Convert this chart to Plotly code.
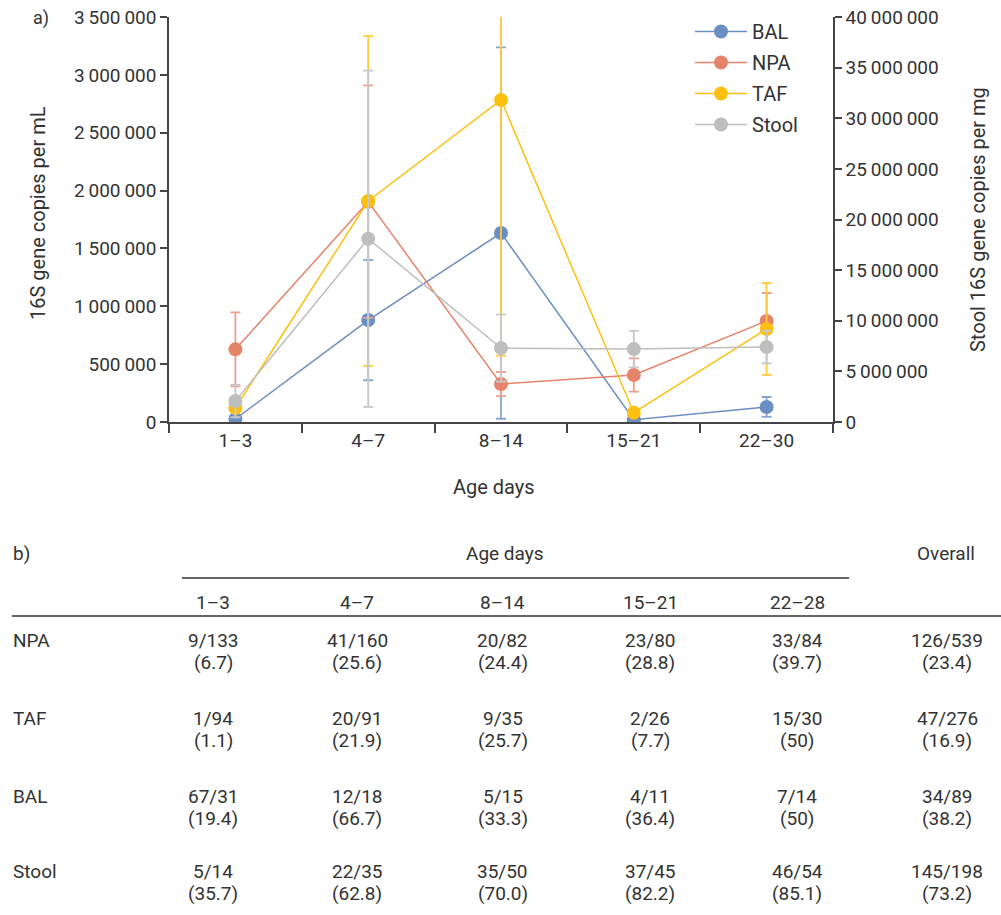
import plotly.graph_objects as go

# ---------------- data ----------------
categories = ["1–3", "4–7", "8–14", "15–21", "22–30"]

bal = [26000, 881000, 1633000, 20000, 130000]
bal_err = [15000, 520000, 1605000, 10000, 86000]

npa = [628000, 1904000, 328000, 406000, 873000]
npa_err = [320000, 1005000, 104000, 143000, 242000]

taf = [121000, 1910000, 2783000, 80000, 804000]
taf_err = [30000, 1425000, 2210000, 20000, 397000]

stool = [2070000, 18100000, 7300000, 7200000, 7400000]
stool_err = [1600000, 16600000, 3300000, 1800000, 1600000]

# table
table_cols = ["1–3", "4–7", "8–14", "15–21", "22–28"]
table_rows = ["NPA", "TAF", "BAL", "Stool"]
table_counts = [
    ["9/133", "41/160", "20/82", "23/80", "33/84", "126/539"],
    ["1/94", "20/91", "9/35", "2/26", "15/30", "47/276"],
    ["67/31", "12/18", "5/15", "4/11", "7/14", "34/89"],
    ["5/14", "22/35", "35/50", "37/45", "46/54", "145/198"],
]
table_pcts = [
    ["(6.7)", "(25.6)", "(24.4)", "(28.8)", "(39.7)", "(23.4)"],
    ["(1.1)", "(21.9)", "(25.7)", "(7.7)", "(50)", "(16.9)"],
    ["(19.4)", "(66.7)", "(33.3)", "(36.4)", "(50)", "(38.2)"],
    ["(35.7)", "(62.8)", "(70.0)", "(82.2)", "(85.1)", "(73.2)"],
]

# ---------------- styling ----------------
W, H = 1001, 915
FONT = "Roboto"
TXT = "#333333"
AX = "#444444"
C_BAL, C_NPA, C_TAF, C_STOOL = "#6b8fc2", "#e5846b", "#fdc010", "#bebebe"
E_BAL, E_NPA, E_TAF, E_STOOL = "#88a5cd", "#eb9f8c", "#fdc93a", "#c8c8c8"
FS = 19


def px(x):  # window x -> paper
    return x / W


def py(y):  # window y -> paper
    return (H - y) / H


fig = go.Figure()


def add_series(name, vals, errs, col, ecol, yaxis, group):
    fig.add_trace(go.Scatter(
        x=categories, y=vals, name=name, mode="lines+markers",
        yaxis=yaxis, legendgroup=group,
        line=dict(color=col, width=1.5),
        marker=dict(color=col, size=14),
        error_y=dict(type="data", array=errs, visible=True,
                     color=ecol, thickness=1.8, width=5),
    ))


add_series("BAL", bal, bal_err, C_BAL, E_BAL, "y", "g1")
add_series("NPA", npa, npa_err, C_NPA, E_NPA, "y", "g2")
add_series("TAF", taf, taf_err, C_TAF, E_TAF, "y", "g3")
add_series("Stool", stool, stool_err, C_STOOL, E_STOOL, "y2", "g4")

fig.update_layout(
    width=W, height=H,
    margin=dict(l=0, r=0, t=0, b=0, autoexpand=False),
    paper_bgcolor="white", plot_bgcolor="white",
    font=dict(family=FONT, size=FS, color=TXT),
    separators=".\u2009",
    showlegend=True,
    legend=dict(x=px(690), y=py(12), xanchor="left", yanchor="top",
                font=dict(size=20, color=TXT), bgcolor="rgba(0,0,0,0)",
                tracegroupgap=2, itemwidth=52, traceorder="grouped"),
    xaxis=dict(domain=[px(169), px(833)], type="category", automargin=False,
               range=[-0.5, 4.5], showline=True, linecolor=AX, linewidth=1.5,
               ticks="outside", tickson="boundaries", ticklen=9, tickcolor=AX,
               tickwidth=1.5, showgrid=False, zeroline=False,
               tickfont=dict(size=FS, color=TXT)),
    yaxis=dict(domain=[py(422), py(17)], range=[0, 3500000], dtick=500000,
               automargin=False, ticklabeloverflow="allow",
               tickformat=",d", showline=True, linecolor=AX, linewidth=1.5,
               ticks="outside", ticklen=7, tickcolor=AX, tickwidth=1.5,
               showgrid=False, zeroline=False,
               tickfont=dict(size=FS, color=TXT)),
    yaxis2=dict(overlaying="y", side="right", anchor="x", range=[0, 40000000],
                automargin=False, ticklabeloverflow="allow",
                dtick=5000000, tickformat=",d", showline=True, linecolor=AX,
                linewidth=1.5, ticks="outside", ticklen=7, tickcolor=AX,
                tickwidth=1.5, showgrid=False, zeroline=False,
                tickfont=dict(size=FS, color=TXT)),
)

ann = []


def txt(x, y, s, anchor="center", size=FS, angle=0):
    ann.append(dict(x=px(x), y=py(y), xref="paper", yref="paper", text=s,
                    showarrow=False, xanchor=anchor, yanchor="middle",
                    borderpad=0,
                    textangle=angle, font=dict(size=size, color=TXT, family=FONT)))


# chart labels
txt(32, 18, "a)", anchor="left", size=18)
txt(38, 213, "16S gene copies per mL", angle=-90, size=20)
txt(978, 220, "Stool 16S gene copies per mg", angle=-90, size=20)
txt(494, 487, "Age days", size=20)

# table
txt(12, 553, "b)", anchor="left")
txt(505, 553, "Age days")
txt(946, 553, "Overall")
col_x = [213, 357, 503, 650, 797, 947]
for cx, c in zip(col_x, table_cols):
    txt(cx, 602, c)
row_y = [640, 718, 796, 871]
for ry, rname, counts, pcts in zip(row_y, table_rows, table_counts, table_pcts):
    txt(12, ry, rname, anchor="left")
    for cx, c, p in zip(col_x, counts, pcts):
        txt(cx, ry, c)
        txt(cx, ry + 22, p)

fig.update_layout(annotations=ann)

shapes = [
    dict(type="line", xref="paper", yref="paper", x0=px(182), x1=px(849),
         y0=py(578), y1=py(578), line=dict(color="#333333", width=1.5)),
    dict(type="line", xref="paper", yref="paper", x0=px(12), x1=1,
         y0=py(616), y1=py(616), line=dict(color="#333333", width=1.5)),
]
fig.update_layout(shapes=shapes)

# remove the browser's default 8px page margin so the figure fills the window
fig.write_html("out.html",
               config={"displayModeBar": False},
               post_script="document.body.style.margin='0px';"
                           "document.body.style.overflow='hidden';")
